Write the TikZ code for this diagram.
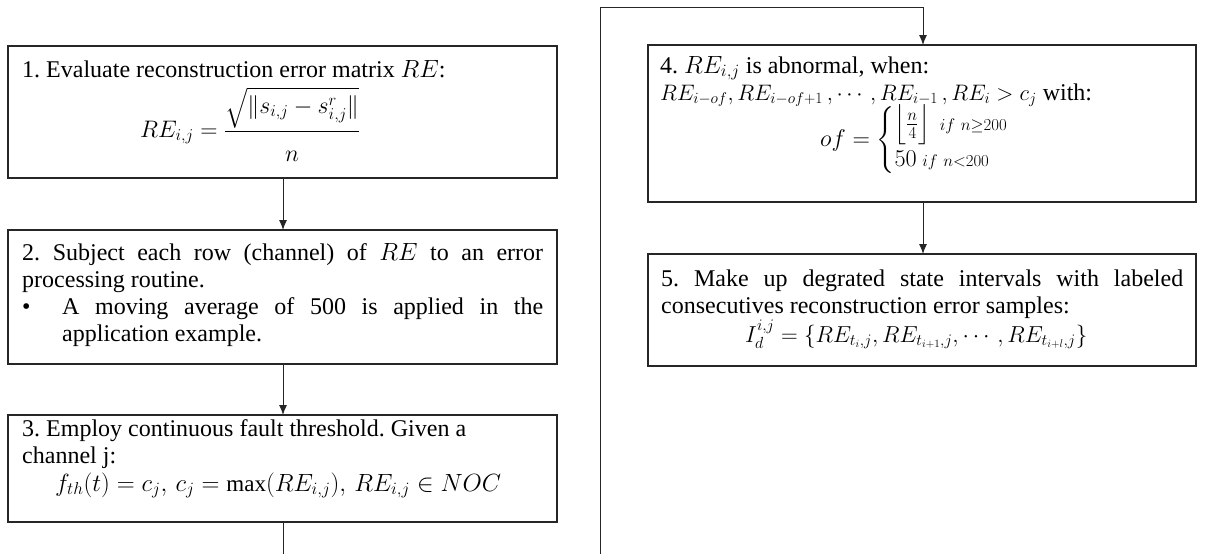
\documentclass[tikz,border=0pt]{standalone}
\usepackage{amsmath,amssymb}
\usepackage{graphicx}
\usepackage{fontspec}
\setmainfont{Liberation Serif}
\usetikzlibrary{arrows.meta}
\newcommand{\bodyfont}{\fontsize{24}{27}\selectfont\frenchspacing\hyphenpenalty=10000\exhyphenpenalty=10000\setlength{\parindent}{0pt}}
\newcommand{\msz}[2]{{\fontsize{23}{27}\selectfont\scalebox{#1}{$#2$}}}
\begin{document}
\begin{tikzpicture}[x=1pt,y=-1pt,
  box/.style={draw=black!85, line width=1.3pt, rectangle, inner sep=0pt, outer sep=0pt, anchor=north west},
  txt/.style={inner sep=0pt, anchor=base west, font=\bodyfont},
  conn/.style={line width=1pt, black!85},
  arr/.style={conn, -{Latex[length=10pt,width=8pt]}}]
\useasboundingbox (0,0) rectangle (1206,554);
% boxes
\node[box, minimum width=549pt, minimum height=132pt] (b1) at (8,46) {};
\node[box, minimum width=549pt, minimum height=134pt] (b2) at (8,230) {};
\node[box, minimum width=549pt, minimum height=107pt] (b3) at (8,415) {};
\node[box, minimum width=548pt, minimum height=157pt] (b4) at (648,45) {};
\node[box, minimum width=548pt, minimum height=112pt] (b5) at (648,254) {};
% texts
\node[txt] (t1) at (22,77) {1. Evaluate reconstruction error matrix \msz{1}{RE}:};
\node[txt] (f1) at (140,137) {\msz{0.96}{\displaystyle RE_{i,j}=\frac{\sqrt{\lVert s_{i,j}-s^{r}_{i,j}\rVert}}{\rule{0pt}{29pt}n}}};
\node[txt] (t2) at (22,260) {\parbox[t]{521pt}{\bodyfont 2. Subject each row (channel) of \msz{1}{RE} to an error processing routine.\par
\hangindent=40pt\hangafter=1 \makebox[40pt][l]{\textbullet}A moving average of 500 is applied in the application example.}};
\node[txt] (t3) at (22,436) {\parbox[t]{521pt}{\bodyfont\raggedright 3. Employ continuous fault threshold. Given a\\ channel j:}};
\node[txt] (f3) at (55,491) {\msz{1}{f_{th}(t)=c_j,\, c_j=\max(RE_{i,j}),\, RE_{i,j}\in NOC}};
\node[txt] (t4) at (660,73) {4. \msz{1}{RE_{i,j}} is abnormal, when:};
\node[txt] (t4b) at (660,100) {\msz{0.9}{RE_{i-of},RE_{i-of+1}\,,\cdots,RE_{i-1}\,,RE_i>c_j} with:};
\node[txt] (f4) at (820,146) {\msz{0.97}{of=\begin{cases}\left\lfloor\frac{\rule{0pt}{11pt}n}{\rule[-3pt]{0pt}{12pt}4}\right\rfloor\ {\scriptstyle if\ n\geq 200}\\[3pt] 50\ {\scriptstyle if\ n<200}\end{cases}}};
\node[txt] (t5) at (661,286) {\parbox[t]{522pt}{\bodyfont 5. Make up degrated state intervals with labeled consecutives reconstruction error samples:}};
\node[txt] (f5) at (745,342) {\msz{0.93}{I_d^{i,j}=\{RE_{t_i,j},RE_{t_{i+1},j},\cdots,RE_{t_{i+l},j}\}}};
% connectors
\coordinate (e3) at (283,554);
\coordinate (s4) at (600,554);
\coordinate (c4a) at (600,7);
\coordinate (c4b) at (923,7);
\draw[arr] (b1.south -| e3) -- (b2.north -| e3);
\draw[arr] (b2.south -| e3) -- (b3.north -| e3);
\draw[conn] (b3.south -| e3) -- (e3);
\draw[arr] (s4) -- (c4a) -- (c4b) -- (b4.north -| c4b);
\draw[arr] (b4.south -| c4b) -- (b5.north -| c4b);
\end{tikzpicture}
\end{document}
